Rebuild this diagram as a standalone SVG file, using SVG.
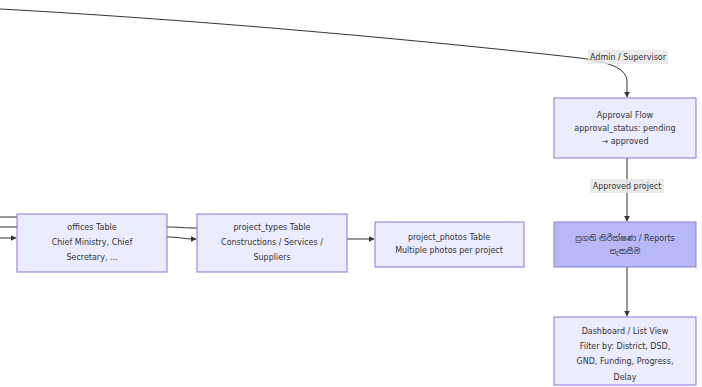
<svg xmlns="http://www.w3.org/2000/svg" width="702" height="387" viewBox="0 0 702 387">
<defs>
<marker id="ah" viewBox="0 0 10 10" refX="9" refY="5" markerWidth="6" markerHeight="6" orient="auto-start-reverse" markerUnits="userSpaceOnUse">
<path d="M0,0 L10,5 L0,10 z" fill="#333"/>
</marker>
<style>
.node rect{fill:#ECECFF;stroke:#9370DB;stroke-width:1}
.node.hl rect{fill:#B8B8F8;stroke:#8a7fd0}
text{font-family:"DejaVu Sans","Noto Sans","Noto Sans Sinhala",sans-serif;font-size:8px;fill:#333;text-anchor:middle}
.edge{fill:none;stroke:#333;stroke-width:1}
.lbl rect{fill:#e8e8e8;opacity:0.85}
</style>
</defs>
<rect width="702" height="387" fill="#fff"/>
<g id="connectors">
<path class="edge" d="M0,9 C200,20 420,40 580,58 C615,63 627,70 627,82 L627,97" marker-end="url(#ah)"/>
<path class="edge" d="M627,158 L627,221" marker-end="url(#ah)"/>
<path class="edge" d="M627,267 L627,316" marker-end="url(#ah)"/>
<path class="edge" d="M0,217 L17,217"/>
<path class="edge" d="M0,227 L17,227"/>
<path class="edge" d="M0,238 L16,238" marker-end="url(#ah)"/>
<path class="edge" d="M167,227 C180,227 182,228 197,228"/>
<path class="edge" d="M167,237 C180,237 182,239 196,239" marker-end="url(#ah)"/>
<path class="edge" d="M347,239 L374,239" marker-end="url(#ah)"/>
<g class="lbl"><rect x="588" y="50" width="80" height="14"/><text x="628" y="60">Admin / Supervisor</text></g>
<g class="lbl"><rect x="590" y="179" width="74" height="14"/><text x="627" y="189">Approved project</text></g>
</g>
<g id="approval" class="node"><rect x="554" y="98" width="142" height="60"/>
<text x="625" y="118">Approval Flow</text><text x="625" y="131">approval_status: pending</text><text x="625" y="144">→ approved</text></g>
<g id="reports" class="node hl"><rect x="554" y="222" width="142" height="45"/>
<text x="625" y="241">ප්‍රගති නිරීක්ෂණ / Reports</text><text x="625" y="254">සැකසීම</text></g>
<g id="dashboard" class="node"><rect x="554" y="317" width="142" height="68"/>
<text x="625" y="334">Dashboard / List View</text><text x="625" y="349">Filter by: District, DSD,</text><text x="625" y="364">GND, Funding, Progress,</text><text x="625" y="380">Delay</text></g>
<g id="offices" class="node"><rect x="17" y="214" width="150" height="58"/>
<text x="92" y="230">offices Table</text><text x="92" y="245">Chief Ministry, Chief</text><text x="92" y="260">Secretary, ...</text></g>
<g id="project_types" class="node"><rect x="197" y="214" width="150" height="58"/>
<text x="272" y="230">project_types Table</text><text x="272" y="245">Constructions / Services /</text><text x="272" y="260">Suppliers</text></g>
<g id="project_photos" class="node"><rect x="375" y="222" width="149" height="45"/>
<text x="449" y="240">project_photos Table</text><text x="449" y="253">Multiple photos per project</text></g>
</svg>
